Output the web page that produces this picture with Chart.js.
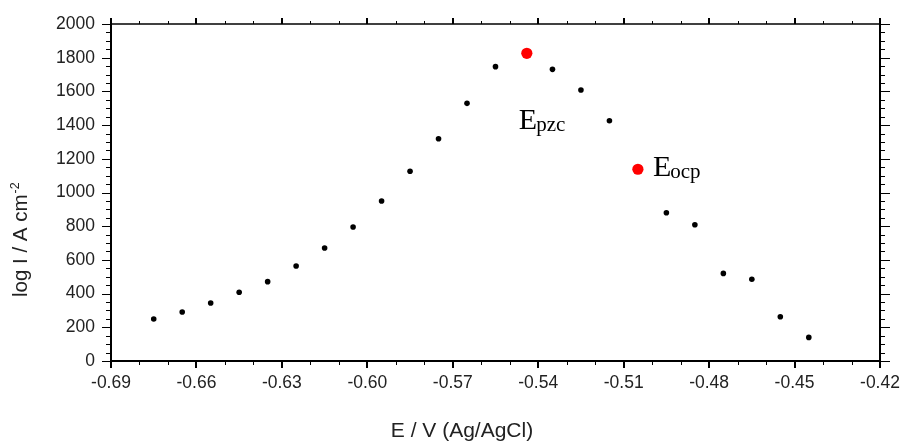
<!DOCTYPE html>
<html>
<head>
<meta charset="utf-8">
<script src="https://cdn.jsdelivr.net/npm/chart.js@4/dist/chart.umd.min.js"></script>
<style>
  html, body { margin: 0; padding: 0; background: #fff; }
  #wrap { width: 903px; height: 441px; }
</style>
</head>
<body>
<div id="wrap"><canvas id="dia"></canvas></div>
<script>
// data points
const potE = [-0.675, -0.665, -0.655, -0.645, -0.635, -0.625, -0.615, -0.605, -0.595, -0.585, -0.575,
              -0.565, -0.555, -0.535, -0.525, -0.515, -0.495, -0.485, -0.475, -0.465, -0.455, -0.445];
const logI = [249, 291, 344, 408, 471, 564, 671, 795, 950, 1126, 1319,
              1529, 1747, 1731, 1608, 1426, 880, 809, 520, 485, 263, 140];
const redE = [-0.544, -0.505];
const redI = [1826, 1138];
const redLabels = [["E", "pzc"], ["E", "ocp"]];

const xTicks = [-0.69, -0.66, -0.63, -0.60, -0.57, -0.54, -0.51, -0.48, -0.45, -0.42];
const yTicks = [0, 200, 400, 600, 800, 1000, 1200, 1400, 1600, 1800, 2000];

const xTitle = "E / V (Ag/AgCl)";
const yTitle = "log I / A cm";
const ySup = "-2";

const txtColor = "#222";
const font = "'Liberation Sans', Arial, sans-serif";

// frame, ticks, titles, labels
const framePlugin = {
    id: "frame",
    afterDraw(chart) {
        const ctx = chart.ctx;
        const a = chart.chartArea;
        const xs = chart.scales.x, ys = chart.scales.y;
        ctx.save();
        ctx.strokeStyle = "#000";

        // minor ticks
        ctx.lineWidth = 1;
        ctx.beginPath();
        for (let v = -0.68; v < -0.42; v += 0.01) {
            const px = Math.round(xs.getPixelForValue(v)) + 0.5;
            const major = xTicks.some(t => Math.abs(t - v) < 0.001);
            const lb = major ? 7 : 4, lt = major ? 6 : 3;
            ctx.moveTo(px, a.bottom); ctx.lineTo(px, a.bottom + lb);
            ctx.moveTo(px, a.top); ctx.lineTo(px, a.top - lt);
        }
        for (let v = 0; v <= 2000; v += 50) {
            const py = Math.round(ys.getPixelForValue(v)) + 0.5;
            const major = v % 200 === 0;
            const ll = major ? 9 : 5, lr = major ? 10 : 5;
            ctx.moveTo(a.left, py); ctx.lineTo(a.left - ll, py);
            ctx.moveTo(a.right, py); ctx.lineTo(a.right + lr, py);
        }
        ctx.stroke();
        // major tick thicker on x
        ctx.lineWidth = 2;
        ctx.beginPath();
        xTicks.forEach(t => {
            const px = Math.round(xs.getPixelForValue(t));
            ctx.moveTo(px, a.bottom); ctx.lineTo(px, a.bottom + 7);
            ctx.moveTo(px, a.top); ctx.lineTo(px, a.top - 6);
        });
        ctx.stroke();

        // box
        ctx.lineWidth = 2;
        ctx.beginPath();
        ctx.moveTo(a.left, a.top); ctx.lineTo(a.left, a.bottom);
        ctx.lineTo(a.right, a.bottom); ctx.lineTo(a.right, a.top);
        ctx.stroke();
        ctx.lineWidth = 1.5;
        ctx.beginPath();
        ctx.moveTo(a.left, a.top); ctx.lineTo(a.right, a.top);
        ctx.stroke();

        // axis titles
        ctx.fillStyle = txtColor;
        ctx.font = "21px " + font;
        ctx.textAlign = "center";
        ctx.textBaseline = "alphabetic";
        ctx.fillText(xTitle, 462, 437);

        ctx.save();
        ctx.translate(27, 297);
        ctx.rotate(-Math.PI / 2);
        ctx.font = "20.5px " + font;
        ctx.textAlign = "left";
        ctx.fillText(yTitle, 0, 0);
        const w = ctx.measureText(yTitle).width;
        ctx.font = "12.5px " + font;
        ctx.fillText(ySup, w + 1, -8);
        ctx.restore();

        // labels near the red points
        const offs = [[-8, 76], [15, 7]];
        redE.forEach((e, i) => {
            const px = xs.getPixelForValue(e) + offs[i][0];
            const py = ys.getPixelForValue(redI[i]) + offs[i][1];
            ctx.textAlign = "left";
            ctx.fillStyle = "#000";
            ctx.font = "30px 'Liberation Serif', 'Times New Roman', serif";
            ctx.fillText(redLabels[i][0], px, py);
            const we = ctx.measureText(redLabels[i][0]).width;
            ctx.font = "21px 'Liberation Serif', 'Times New Roman', serif";
            ctx.fillText(redLabels[i][1], px + we - 1, py + 1.5);
        });
        ctx.restore();
    }
};

new Chart(document.getElementById("dia"), {
    type: "scatter",
    data: {
        datasets: [
            {
                data: potE.map((e, i) => ({ x: e, y: logI[i] })),
                backgroundColor: "#000",
                borderColor: "#000",
                pointRadius: 2.8,
                borderWidth: 0
            },
            {
                data: redE.map((e, i) => ({ x: e, y: redI[i] })),
                backgroundColor: "#f00",
                borderColor: "#f00",
                pointRadius: 5.6,
                borderWidth: 0
            }
        ]
    },
    options: {
        responsive: true,
        maintainAspectRatio: false,
        animation: false,
        layout: { padding: { left: 0, right: 23, top: 24, bottom: 0 } },
        plugins: { legend: { display: false }, tooltip: { enabled: false } },
        scales: {
            x: {
                type: "linear",
                min: -0.69, max: -0.42,
                afterBuildTicks: s => { s.ticks = xTicks.map(v => ({ value: v })); },
                afterFit: s => { s.height = 80; s.paddingLeft = 0; s.paddingRight = 0; },
                grid: { display: false, drawTicks: false },
                border: { display: false },
                ticks: {
                    padding: 12,
                    color: txtColor,
                    font: { size: 17.5, family: font },
                    maxRotation: 0,
                    callback: v => v.toFixed(2)
                }
            },
            y: {
                min: 0, max: 2000,
                afterBuildTicks: s => { s.ticks = yTicks.map(v => ({ value: v })); },
                afterFit: s => { s.width = 111; s.paddingTop = 0; s.paddingBottom = 0; },
                grid: { display: false, drawTicks: false },
                border: { display: false },
                ticks: {
                    padding: 16,
                    color: txtColor,
                    font: { size: 17.5, family: font },
                    callback: v => String(v)
                }
            }
        }
    },
    plugins: [framePlugin]
});
</script>
</body>
</html>
